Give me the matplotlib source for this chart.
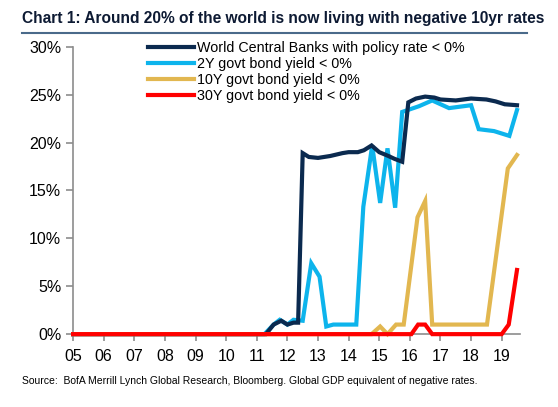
import matplotlib.pyplot as plt
from matplotlib.lines import Line2D

# fractional years (5 = 2005) and % of world GDP
cb_x = [5.0, 11.3, 11.55, 11.8, 12.0, 12.2, 12.35, 12.5, 12.7, 13.0, 13.4, 13.8, 14.0, 14.3, 14.5, 14.75, 15.0, 15.3, 15.5, 15.75, 15.95, 16.2, 16.5, 16.8, 17.0, 17.5, 18.0, 18.5, 18.8, 19.1, 19.5]
cb_y = [0.0, 0.0, 1.0, 1.4, 1.0, 1.2, 1.2, 18.9, 18.5, 18.4, 18.6, 18.9, 19.0, 19.0, 19.2, 19.7, 19.0, 18.6, 18.3, 18.0, 24.2, 24.6, 24.8, 24.7, 24.5, 24.4, 24.6, 24.5, 24.3, 24.0, 23.9]

y2_x = [5.0, 11.25, 11.55, 11.75, 12.0, 12.2, 12.5, 12.78, 13.05, 13.27, 13.5, 14.25, 14.48, 14.77, 15.03, 15.27, 15.52, 15.75, 16.3, 16.73, 17.28, 18.0, 18.25, 18.75, 19.25, 19.5]
y2_y = [0.0, 0.0, 1.0, 1.5, 1.0, 1.5, 1.4, 7.4, 6.0, 0.8, 1.0, 1.0, 13.3, 19.7, 13.7, 19.4, 13.2, 23.2, 23.8, 24.4, 23.6, 23.9, 21.4, 21.2, 20.7, 23.4]

y10_x = [5.0, 14.75, 15.03, 15.27, 15.55, 15.8, 16.25, 16.5, 16.73, 17.0, 18.52, 19.2, 19.5]
y10_y = [0.0, 0.0, 0.8, 0.0, 1.0, 1.0, 12.2, 13.9, 1.0, 1.0, 1.0, 17.3, 18.7]

y30_x = [5.0, 16.05, 16.27, 16.5, 16.73, 19.0, 19.23, 19.5]
y30_y = [0.0, 0.0, 1.0, 1.0, 0.0, 0.0, 1.0, 6.7]

labels = ['World Central Banks with policy rate < 0%', '2Y govt bond yield < 0%',
          '10Y govt bond yield < 0%', '30Y govt bond yield < 0%']
colors = ['#0b2a4f', '#0db4ec', '#e2b750', '#ff0000']
years = list(range(5, 20))
year_labels = ['%02d' % y for y in years]

plt.rcParams['font.family'] = ['Liberation Sans', 'DejaVu Sans']

fig = plt.figure(figsize=(5.58, 4.07), dpi=100)
ax = fig.add_axes([0.131, 0.179, 0.801, 0.706])

series = [(cb_x, cb_y), (y2_x, y2_y), (y10_x, y10_y), (y30_x, y30_y)]
order = [1, 0, 2, 3]
for i in order:
    ax.plot(series[i][0], series[i][1], color=colors[i], linewidth=3, clip_on=False,
            zorder=3 + (i == 3), solid_joinstyle='miter')

ax.set_xlim(5, 19.6)
ax.set_ylim(0, 30)
ax.set_yticks(range(0, 31, 5))
ax.set_yticklabels(['%d%%' % v for v in range(0, 31, 5)])
ax.set_xticks(years)
ax.set_xticklabels(year_labels)
for s in ['top', 'right']:
    ax.spines[s].set_visible(False)
for s in ['left', 'bottom']:
    ax.spines[s].set_color('#8c8c8c')
    ax.spines[s].set_linewidth(1.2)
ax.tick_params(axis='both', colors='#8c8c8c', length=5, width=1.2, labelsize=11.5,
               labelcolor='black')
ax.tick_params(axis='x', pad=6)

handles = [Line2D([0], [0], color=c, linewidth=3) for c in colors]
ax.legend(handles, labels, loc='upper left', bbox_to_anchor=(0.155, 1.04), frameon=False,
          fontsize=10.3, handlelength=3.2, handletextpad=0.2, labelspacing=0.14,
          borderaxespad=0)

fig.text(0.04, 0.955, 'Chart 1: Around 20% of the world is now living with negative 10yr rates',
         fontsize=11.2, fontweight='bold', color='#0d1a33', va='center')
fig.add_artist(Line2D([0.04, 0.945], [0.918, 0.918], color='#4a6a8a', linewidth=1.5))
fig.text(0.04, 0.063, 'Source:  BofA Merrill Lynch Global Research, Bloomberg. Global GDP equivalent of negative rates.',
         fontsize=7.5, va='center')

fig.savefig('out.png', dpi=100)
